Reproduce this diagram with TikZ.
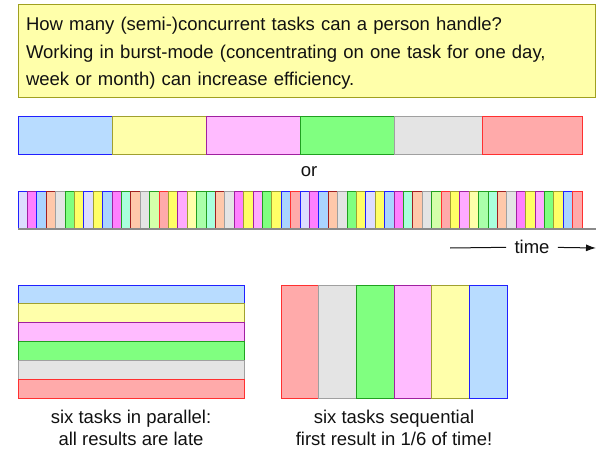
\documentclass[tikz,border=0pt]{standalone}
\usepackage{fontspec}
\setmainfont{Liberation Sans}
\usetikzlibrary{arrows.meta,positioning}
\definecolor{inkblack}{HTML}{111111}
\definecolor{notefill}{HTML}{FFFFAA}
\definecolor{noteline}{HTML}{A0A020}
\definecolor{blueline}{HTML}{2020FF}
\definecolor{oliveline}{HTML}{A0A030}
\definecolor{purpleline}{HTML}{A020A0}
\definecolor{greenline}{HTML}{20A020}
\definecolor{grayline}{HTML}{A0A0A0}
\definecolor{redline}{HTML}{FF3030}
\definecolor{darkredline}{HTML}{A02020}
\definecolor{bluefill}{HTML}{B8DCFF}
\definecolor{skyfill}{HTML}{AAD4FF}
\definecolor{lavfill}{HTML}{DDDDFF}
\definecolor{yellowfill}{HTML}{FFFFAA}
\definecolor{goldfill}{HTML}{FFFF66}
\definecolor{pinkfill}{HTML}{FFBBFF}
\definecolor{rosefill}{HTML}{FFAAFF}
\definecolor{magfill}{HTML}{FF80FF}
\definecolor{greenfill}{HTML}{80FF80}
\definecolor{leaffill}{HTML}{AAFFAA}
\definecolor{mintfill}{HTML}{AAFFDD}
\definecolor{limefill}{HTML}{D4FFAA}
\definecolor{grayfill}{HTML}{E4E4E4}
\definecolor{redfill}{HTML}{FFAAAA}
\definecolor{salmonfill}{HTML}{FFC8AA}
\definecolor{axisgray}{HTML}{8A8A8A}
\tikzset{
  cB/.style={fill=bluefill, draw=blueline},
  cK/.style={fill=skyfill, draw=blueline},
  cL/.style={fill=lavfill, draw=blueline},
  cY/.style={fill=yellowfill, draw=oliveline},
  cO/.style={fill=goldfill, draw=oliveline},
  cP/.style={fill=pinkfill, draw=purpleline},
  cR/.style={fill=rosefill, draw=purpleline},
  cM/.style={fill=magfill, draw=purpleline},
  cG/.style={fill=greenfill, draw=greenline},
  cF/.style={fill=leaffill, draw=greenline},
  cT/.style={fill=mintfill, draw=greenline},
  cI/.style={fill=limefill, draw=greenline},
  cA/.style={fill=grayfill, draw=grayline},
  cD/.style={fill=redfill, draw=redline},
  cS/.style={fill=salmonfill, draw=darkredline}
}

\begin{document}
\begin{tikzpicture}[x=1pt, y=-1pt, line width=0.8pt,
    font=\fontsize{18.5}{22}\selectfont,
    tile/.style={inner sep=0pt, outer sep=0pt, anchor=north west},
    every node/.append style={text=inkblack}]
  \useasboundingbox (0,0) rectangle (596,449);

  % question box
  \node[tile, fill=notefill, draw=noteline, minimum width=577pt, minimum height=93pt,
        text width=561pt, inner xsep=8pt, align=left,
        font=\fontsize{18.5}{27.5}\selectfont] (note) at (18,4)
    {\rule{0pt}{19.5pt}\mbox{How many (semi-)concurrent tasks can a person handle?}\\
     \mbox{Working in burst-mode (concentrating on one task for one day,}\\
     \mbox{week or month) can increase efficiency.}};

  % Row 1: burst mode
  \foreach \x/\w/\c [count=\i] in {18/94/cB, 112/94/cY, 206/94/cP, 300/94/cG, 394/88/cA, 482/100/cD}
    \node[tile, \c, minimum width=\w pt, minimum height=38pt] (b\i) at (\x,116) {};

  \node (or) at (309,172) {or};

  % Row 2: task switching
  \def\slices{cL,cM,cK,cS,cA,cG,cO,cL,cO,cK,cM,cT,cS,cA,cI,cD,cO,cR,cY,cF,cT,cS,cA,cM,cO,cR,cG,cO,cK,cD}
  \foreach \k in {0,1}
    \foreach \c [count=\i from 0] in \slices
      \node[tile, \c, minimum width=9.4pt, minimum height=38pt] (s\k-\i) at ({18+282*\k+9.4*\i},191) {};
  \coordinate (axisend) at (596,229);
  \draw[axisgray, line width=1.5pt] (s0-0.south west) -- (axisend);

  % time arrow
  \node[inner xsep=8pt] (time) at (532,247) {time};
  \coordinate (tstart) at (450,248);
  \coordinate (tend) at (596,248);
  \draw[inkblack, line width=1pt] (tstart) -- (time);
  \draw[inkblack, line width=1pt, -{Latex[length=10pt,width=7pt]}] (time) -- (tend);

  % six tasks in parallel
  \foreach \c [count=\i from 0] in {cB,cY,cP,cG,cA,cD}
    \node[tile, \c, minimum width=226pt, minimum height=18.83pt] (p\i) at (18,{285+18.83*\i}) {};
  \node[align=center, below=8pt of p5] (parnote) {six tasks in parallel:\\all results are late};

  % six tasks sequential
  \foreach \c [count=\i from 0] in {cD,cA,cG,cP,cY,cB}
    \node[tile, \c, minimum width=37.67pt, minimum height=113pt] (q\i) at ({281+37.67*\i},285) {};
  \node[align=center, below=8pt of q2.south east] (seqnote) {six tasks sequential\\first result in 1/6 of time!};
\end{tikzpicture}
\end{document}
